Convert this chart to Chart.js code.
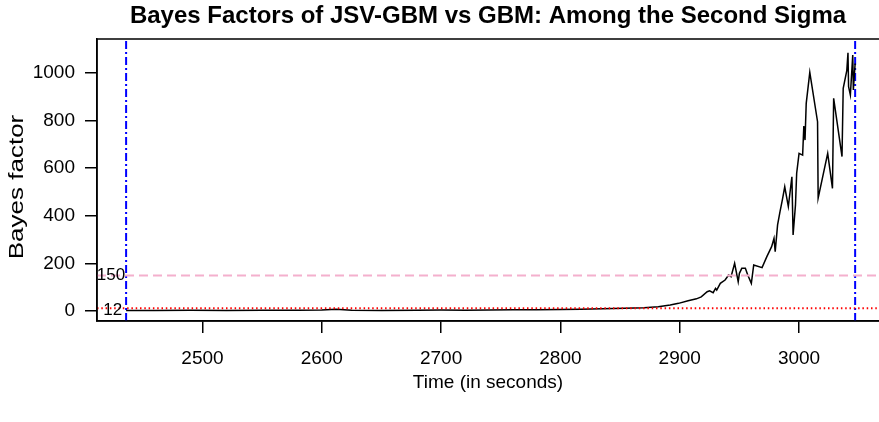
<!DOCTYPE html>
<html>
<head>
<meta charset="utf-8">
<script src="https://cdn.jsdelivr.net/npm/chart.js@4"></script>
<style>
  html, body { margin: 0; padding: 0; background: #fff; }
  #wrap { width: 879px; height: 422px; }
</style>
</head>
<body>
<div id="wrap"><canvas id="bf"></canvas></div>
<script>
// time (seconds) and Bayes factor
var times = [2436, 2460, 2490, 2520, 2550, 2580, 2600, 2612, 2625, 2650, 2680, 2700, 2720, 2740,
    2760, 2780, 2800, 2817, 2835, 2854, 2870, 2882, 2892, 2899, 2907, 2914, 2918, 2923, 2925, 2928,
    2930, 2931, 2934, 2938, 2941, 2943, 2946, 2949, 2950, 2952, 2955, 2957, 2960, 2962, 2969, 2973,
    2977, 2979, 2980, 2982, 2984, 2986, 2988, 2991, 2994, 2995, 2997, 2998, 3000, 3003, 3004, 3005,
    3006, 3009, 3015.5, 3016, 3024, 3028, 3029, 3036, 3037, 3040, 3041, 3041.5, 3043, 3045, 3045.5, 3047];
var bayesFactor = [3, 3, 4, 3, 4, 4, 5, 8, 4, 3, 4, 5, 4, 5,
    6, 6, 7, 8, 10, 12, 15, 19, 26, 33, 44, 52, 60, 82, 86, 78,
    96, 89, 117, 131, 152, 145, 201, 124, 159, 180, 180, 152, 117, 194, 183, 229,
    271, 306, 250, 362, 417, 467, 522, 439, 564, 320, 446, 579, 662, 655, 777, 718,
    872, 1002, 795, 474, 662, 515, 893, 649, 935, 1009, 1084, 942, 907, 1075, 928, 1039];

var xTicks = [2500, 2600, 2700, 2800, 2900, 3000];
var yTicks = [0, 200, 400, 600, 800, 1000];
var thresholds = [150, 12];
var windowBounds = [2436, 3047];
var xRange = [2411.6, 3067];
var yRange = [-41, 1142];

var FONT = "'Liberation Sans', Arial, Helvetica, sans-serif";

function pts(xs, ys) {
    var out = [];
    for (var i = 0; i < xs.length; i++) out.push({x: xs[i], y: ys[i]});
    return out;
}

var extras = {
    id: "extras",
    afterDraw: function(chart) {
        var ctx = chart.ctx;
        var a = chart.chartArea;
        var xs = chart.scales.x, ys = chart.scales.y;
        ctx.save();
        // box
        ctx.strokeStyle = "#000";
        ctx.lineWidth = 1.5;
        ctx.strokeRect(a.left, a.top, a.right - a.left + 2, a.bottom - a.top);
        // threshold labels
        ctx.fillStyle = "#000";
        ctx.font = "17px " + FONT;
        ctx.textAlign = "right";
        ctx.textBaseline = "middle";
        ctx.fillText("150", xs.getPixelForValue(windowBounds[0]) - 1, ys.getPixelForValue(thresholds[0]));
        ctx.fillText("12", xs.getPixelForValue(windowBounds[0]) - 4, ys.getPixelForValue(thresholds[1]) + 2);
        // title
        ctx.textAlign = "center";
        ctx.font = "bold 24px " + FONT;
        ctx.fillText("Bayes Factors of JSV-GBM vs GBM: Among the Second Sigma", (a.left + a.right) / 2, 16);
        ctx.font = "19px " + FONT;
        ctx.fillText("Time (in seconds)", (a.left + a.right) / 2, 383);
        ctx.translate(17, 187);
        ctx.rotate(-Math.PI / 2);
        ctx.scale(1.3, 1);
        ctx.font = "20px " + FONT;
        ctx.fillText("Bayes factor", 0, 0);
        ctx.restore();
    }
};

new Chart("bf", {
    type: "scatter",
    data: {
        datasets: [
            {
                data: pts([xRange[0], xRange[1]], [thresholds[0], thresholds[0]]),
                showLine: true, borderColor: "#f4b0cd", borderWidth: 2, borderDash: [9, 5],
                pointRadius: 0
            },
            {
                data: pts([xRange[0], xRange[1]], [thresholds[1], thresholds[1]]),
                showLine: true, borderColor: "#ff0000", borderWidth: 2, borderDash: [1.5, 2.8],
                pointRadius: 0
            },
            {
                data: pts(times, bayesFactor),
                showLine: true, borderColor: "#000", borderWidth: 1.5,
                pointRadius: 0, tension: 0
            },
            {
                data: pts([windowBounds[0], windowBounds[0]], yRange),
                showLine: true, borderColor: "#0000ff", borderWidth: 2, borderDash: [8, 3, 2, 3],
                pointRadius: 0
            },
            {
                data: pts([windowBounds[1], windowBounds[1]], yRange),
                showLine: true, borderColor: "#0000ff", borderWidth: 2, borderDash: [8, 3, 2, 3],
                pointRadius: 0
            }
        ]
    },
    options: {
        responsive: true,
        maintainAspectRatio: false,
        animation: false,
        layout: { padding: { top: 39, right: 0, left: 0, bottom: 0 } },
        plugins: { legend: { display: false }, title: { display: false }, tooltip: { enabled: false } },
        scales: {
            x: {
                type: "linear",
                min: xRange[0], max: xRange[1],
                afterBuildTicks: function(s) { s.ticks = xTicks.map(function(v) { return {value: v}; }); },
                afterFit: function(s) { s.height = 101; },
                grid: { drawOnChartArea: false, drawTicks: true, tickLength: 12, color: "#000", lineWidth: 1.5 },
                border: { display: true, color: "#000", width: 1.5 },
                ticks: { color: "#000", font: { family: FONT, size: 19 }, padding: 14, maxRotation: 0,
                         callback: function(v) { return v; } }
            },
            y: {
                type: "linear",
                min: yRange[0], max: yRange[1],
                afterBuildTicks: function(s) { s.ticks = yTicks.map(function(v) { return {value: v}; }); },
                afterFit: function(s) { s.width = 97; },
                grid: { drawOnChartArea: false, drawTicks: true, tickLength: 12, color: "#000", lineWidth: 1.5 },
                border: { display: true, color: "#000", width: 1.5 },
                ticks: { color: "#000", font: { family: FONT, size: 19 }, padding: 10,
                         callback: function(v) { return v; } }
            }
        }
    },
    plugins: [extras]
});
</script>
</body>
</html>
